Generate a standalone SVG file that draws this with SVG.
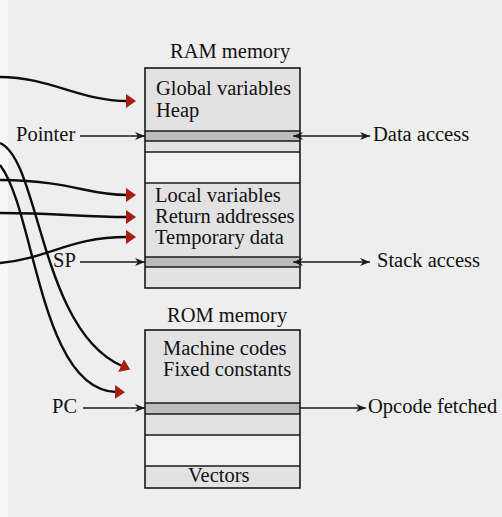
<svg xmlns="http://www.w3.org/2000/svg" width="502" height="517" viewBox="0 0 502 517">
<style>
  text { font-family: "Liberation Serif", "Times New Roman", serif; font-size: 20.5px; fill: #111111; }
  .box { stroke: #1a1a1a; stroke-width: 1.6; }
  .lt { fill: #e2e2e2; }
  .dk { fill: #bcbcbc; }
  .wh { fill: #f1f1f1; }
  .div { stroke: #1a1a1a; stroke-width: 1.6; fill: none; }
  .curve { fill: none; stroke: #0d0d0d; stroke-width: 2.4; }
  .ptr { fill: none; stroke: #1a1a1a; stroke-width: 1.3; }
</style>
<defs>
  <marker id="ah" viewBox="0 0 10 8" markerWidth="10" markerHeight="8" refX="10" refY="4" orient="auto-start-reverse" markerUnits="userSpaceOnUse">
    <path d="M0,0 L10,4 L0,8 L3,4 z" fill="#1a1a1a"/>
  </marker>
  <marker id="rh" viewBox="0 0 10 14" markerWidth="10" markerHeight="14" refX="1" refY="7" orient="auto" markerUnits="userSpaceOnUse">
    <path d="M0,0 L10,7 L0,14 z" fill="#a81d12"/>
  </marker>
</defs>
<rect x="0" y="0" width="502" height="517" fill="#eeeeee"/>
<rect x="0" y="0" width="8" height="517" fill="#f7f7f7"/>

<g id="ram">
  <text x="170" y="58">RAM memory</text>
  <rect class="lt" x="145" y="68" width="155" height="63"/>
  <rect class="dk" x="145" y="131" width="155" height="10"/>
  <rect class="lt" x="145" y="141" width="155" height="11"/>
  <rect class="wh" x="145" y="152" width="155" height="31"/>
  <rect class="lt" x="145" y="183" width="155" height="74"/>
  <rect class="dk" x="145" y="257" width="155" height="10"/>
  <rect class="lt" x="145" y="267" width="155" height="21"/>
  <path class="div" d="M145,131 H300 M145,141 H300 M145,152 H300 M145,183 H300 M145,257 H300 M145,267 H300"/>
  <rect class="box" fill="none" x="145" y="68" width="155" height="220"/>
  <text x="156" y="95">Global variables</text>
  <text x="156" y="117">Heap</text>
  <text x="155" y="202">Local variables</text>
  <text x="155" y="223">Return addresses</text>
  <text x="155" y="244">Temporary data</text>
</g>

<g id="rom">
  <text x="167" y="322">ROM memory</text>
  <rect class="lt" x="145" y="330" width="155" height="73"/>
  <rect class="dk" x="145" y="403" width="155" height="11"/>
  <rect class="lt" x="145" y="414" width="155" height="21"/>
  <rect class="wh" x="145" y="435" width="155" height="31"/>
  <rect class="lt" x="145" y="466" width="155" height="22"/>
  <path class="div" d="M145,403 H300 M145,414 H300 M145,435 H300 M145,466 H300"/>
  <rect class="box" fill="none" x="145" y="330" width="155" height="158"/>
  <text x="163" y="355">Machine codes</text>
  <text x="163" y="376">Fixed constants</text>
  <text x="188" y="482">Vectors</text>
</g>

<g id="label-pointer"><text x="16" y="141">Pointer</text></g>
<g id="label-data-access"><text x="373" y="141">Data access</text></g>
<g id="label-sp"><text x="53" y="267">SP</text></g>
<g id="label-stack-access"><text x="377" y="267">Stack access</text></g>
<g id="label-pc"><text x="52" y="413">PC</text></g>
<g id="label-opcode"><text x="368" y="413">Opcode fetched</text></g>

<g id="connectors">
  <path class="curve" d="M0,77 C50,77 80,101 127,101" marker-end="url(#rh)"/>
  <path class="curve" d="M0,180 C75,181 85,195 127,195" marker-end="url(#rh)"/>
  <path class="curve" d="M0,213 C60,213 80,217 127,217" marker-end="url(#rh)"/>
  <path class="curve" d="M0,263 C50,258 70,237 127,237" marker-end="url(#rh)"/>
  <path class="curve" d="M0,143 C40,160 40,330 122,366" marker-end="url(#rh)"/>
  <path class="curve" d="M0,165 C35,210 40,390 116,392" marker-end="url(#rh)"/>

  <path class="ptr" d="M80,136 H145" marker-end="url(#ah)"/>
  <path class="ptr" d="M293,136 H370" marker-start="url(#ah)" marker-end="url(#ah)"/>
  <path class="ptr" d="M80,262 H145" marker-end="url(#ah)"/>
  <path class="ptr" d="M293,262 H370" marker-start="url(#ah)" marker-end="url(#ah)"/>
  <path class="ptr" d="M83,408 H145" marker-end="url(#ah)"/>
  <path class="ptr" d="M300,408 H366" marker-end="url(#ah)"/>
</g>
</svg>
